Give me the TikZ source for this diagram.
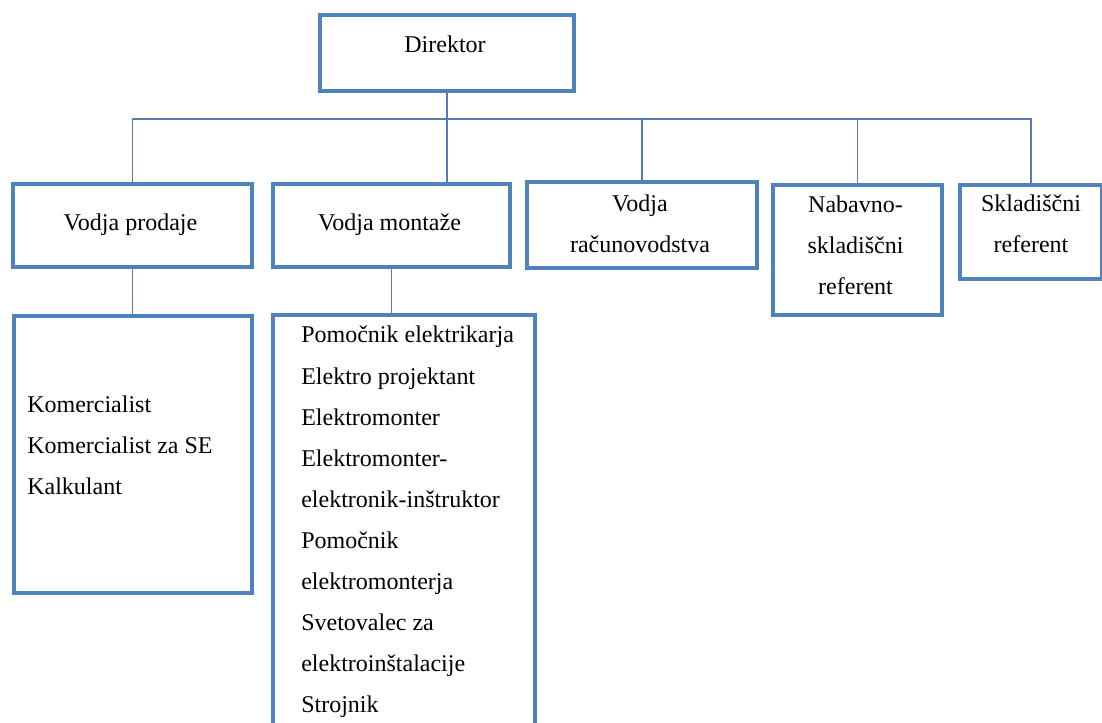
\documentclass[tikz,border=0pt]{standalone}
\usepackage{fontspec}
\setmainfont{Liberation Serif}
\definecolor{frame}{RGB}{79,129,189}
\definecolor{wire}{RGB}{84,124,178}
\begin{document}
\begin{tikzpicture}[x=0.75pt,y=-0.75pt,
  box/.style n args={2}{draw=frame, line width=2.8pt, fill=white, inner sep=0pt,
    anchor=north west, minimum width=#1*0.75pt, minimum height=#2*0.75pt},
  link/.style={draw=wire, line width=1pt},
  lbl/.style={font=\fontsize{18}{22}\selectfont, inner sep=0pt, anchor=base, text=black},
  item/.style={lbl, anchor=base west}]
\useasboundingbox (0,0) rectangle (1102,723);
\clip (0,0) rectangle (1102,723);

% frames
\node[box={254}{76}]  (dir) at (318,13) {};
\node[box={239}{83}]  (vp)  at (11,182) {};
\node[box={237}{83}]  (vm)  at (271,182) {};
\node[box={230}{86}]  (vr)  at (525,180) {};
\node[box={169}{130}] (nr)  at (771,183) {};
\node[box={142}{94}]  (sr)  at (958,183) {};
\node[box={238}{277}] (kl)  at (12,314) {};
\node[box={262}{440}] (ml)  at (271,313) {};

% connectors
\coordinate (bus) at (0,119);
\draw[link] (dir.south) -- (dir.south |- vm.north);
\draw[link] (vp.north) -- (vp.north |- bus) -| (sr.north);
\draw[link] (vr.north |- bus) -- (vr.north);
\draw[link] (nr.north |- bus) -- (nr.north);
\draw[link] (vp.south) -- (vp.south |- kl.north);
\draw[link] (vm.south) -- (vm.south |- ml.north);

% headings
\node[lbl] (tdir) at (445,53) {Direktor};
\node[lbl] (tvp) at (130.5,231) {Vodja prodaje};
\node[lbl] (tvm) at (389.5,231) {Vodja montaže};
\node[lbl] (tvr1) at (640,212) {Vodja};
\node[lbl] (tvr2) at (640,253) {računovodstva};
\node[lbl] (tnr1) at (855.5,213) {Nabavno-};
\node[lbl] (tnr2) at (855.5,254) {skladiščni};
\node[lbl] (tnr3) at (855.5,295) {referent};
\node[lbl] (tsr1) at (1031,212) {Skladiščni};
\node[lbl] (tsr2) at (1031,253) {referent};

% staff lists
\foreach \t [count=\i from 0] in {Komercialist, Komercialist za SE, Kalkulant}
  \node[item] (k\i) at (27,412+41*\i) {\t};
\foreach \t [count=\i from 0] in {Pomočnik elektrikarja, Elektro projektant,
    Elektromonter, Elektromonter-, elektronik-inštruktor, Pomočnik,
    elektromonterja, Svetovalec za, elektroinštalacije, Strojnik}
  \node[item] (m\i) at (301,343+41*\i) {\t};
\end{tikzpicture}
\end{document}
